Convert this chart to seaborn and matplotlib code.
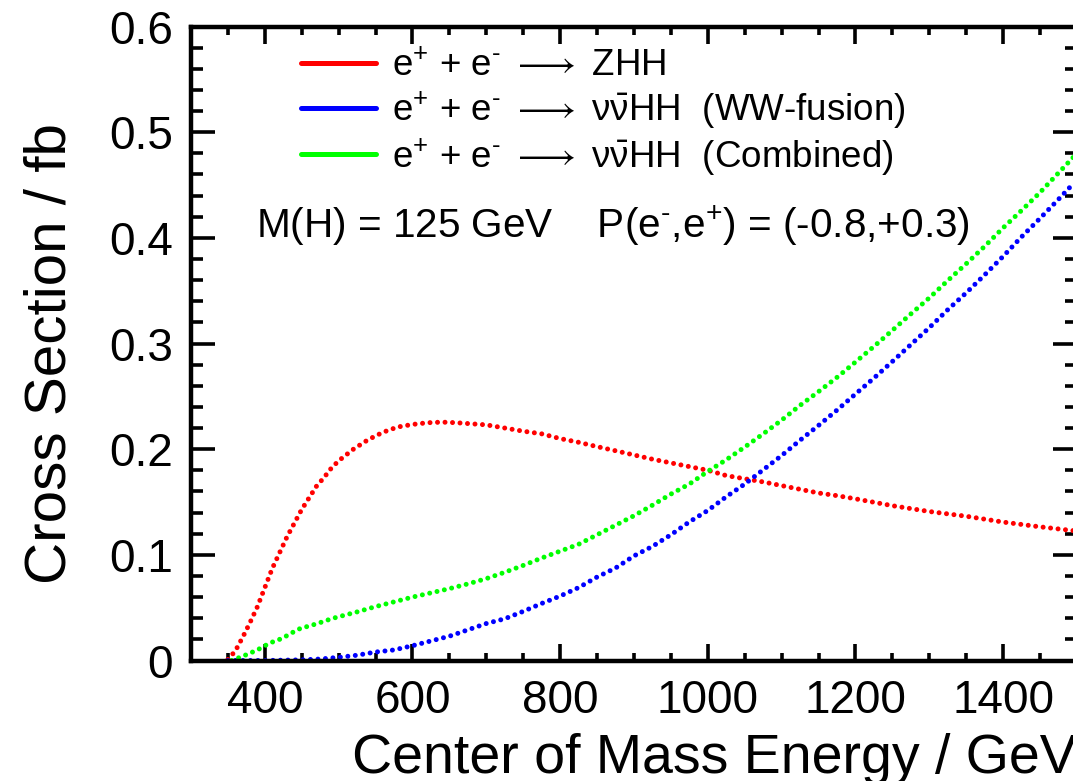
import numpy as np
import pandas as pd
import matplotlib
matplotlib.use("Agg")
import matplotlib.pyplot as plt
from matplotlib.lines import Line2D
from matplotlib.ticker import MultipleLocator, FixedLocator, FixedFormatter
import seaborn as sns

# ---------------- data ----------------
zhh_energy = [350, 360, 370, 380, 390, 400, 410, 420, 430, 440, 450, 460, 470, 480, 490,
              500, 520, 540, 560, 580, 600, 620, 640, 660, 680, 700, 720, 750, 775, 800,
              825, 850, 875, 900, 925, 950, 975, 1000, 1025, 1050, 1075, 1100, 1125, 1150,
              1175, 1200, 1250, 1300, 1350, 1400, 1450, 1500]
zhh_xsec = [0.001, 0.009, 0.022, 0.036, 0.051, 0.069, 0.087, 0.102, 0.117, 0.130, 0.143,
            0.154, 0.165, 0.173, 0.182, 0.189, 0.200, 0.209, 0.216, 0.221, 0.2234, 0.225,
            0.2256, 0.225, 0.224, 0.223, 0.2206, 0.217, 0.2145, 0.210, 0.2065, 0.2024,
            0.1985, 0.1945, 0.1905, 0.187, 0.1835, 0.180, 0.175, 0.172, 0.169, 0.1655,
            0.162, 0.1585, 0.156, 0.153, 0.1465, 0.141, 0.1365, 0.131, 0.1265, 0.1225]

ww_energy = [350, 400, 450, 475, 500, 525, 550, 575, 600, 625, 650, 675, 700, 725, 750,
             775, 800, 825, 850, 875, 900, 925, 950, 975, 1000, 1025, 1050, 1075, 1100,
             1125, 1150, 1175, 1200, 1225, 1250, 1275, 1300, 1325, 1350, 1375, 1400, 1425,
             1450, 1475, 1500]
ww_xsec = [0.0, 0.0, 0.0006, 0.0014, 0.003, 0.005, 0.008, 0.010, 0.014, 0.0185, 0.023,
           0.029, 0.035, 0.0395, 0.0465, 0.054, 0.061, 0.069, 0.079, 0.0875, 0.099, 0.108,
           0.119, 0.1312, 0.142, 0.155, 0.167, 0.1805, 0.194, 0.2085, 0.2225, 0.237, 0.2522,
           0.2673, 0.283, 0.299, 0.315, 0.332, 0.348, 0.365, 0.3825, 0.401, 0.4185, 0.4365,
           0.455]

comb_energy = [355, 370, 380, 390, 400, 410, 420, 430, 440, 450, 460, 470, 480, 490, 500,
               525, 550, 575, 600, 625, 650, 675, 700, 725, 750, 775, 800, 825, 850, 875,
               900, 925, 950, 975, 1000, 1025, 1050, 1075, 1100, 1125, 1150, 1175, 1200,
               1225, 1250, 1275, 1300, 1325, 1350, 1375, 1400, 1425, 1450, 1475, 1500]
comb_xsec = [0.0, 0.004, 0.007, 0.010, 0.014, 0.0174, 0.020, 0.0235, 0.0275, 0.031, 0.0325,
             0.0348, 0.037, 0.0395, 0.0414, 0.046, 0.051, 0.0555, 0.060, 0.064, 0.068,
             0.0725, 0.0775, 0.0835, 0.090, 0.097, 0.1035, 0.110, 0.119, 0.128, 0.137, 0.147,
             0.1575, 0.167, 0.179, 0.190, 0.202, 0.2145, 0.2275, 0.2415, 0.2545, 0.268,
             0.2825, 0.2972, 0.3125, 0.328, 0.3432, 0.3596, 0.3755, 0.392, 0.4095, 0.426,
             0.443, 0.4615, 0.480]

series_labels = [r"e$^{+}$ + e$^{‐}$ $\longrightarrow$ ZHH",
                 r"e$^{+}$ + e$^{‐}$ $\longrightarrow$ $\nu\bar{\nu}$HH  (WW-fusion)",
                 r"e$^{+}$ + e$^{‐}$ $\longrightarrow$ $\nu\bar{\nu}$HH  (Combined)"]
series_colors = ["#ff0000", "#0000ff", "#00ff00"]

x_ticks = [400, 600, 800, 1000, 1200, 1400]
x_tick_labels = ["400", "600", "800", "1000", "1200", "1400"]
y_ticks = [0.0, 0.1, 0.2, 0.3, 0.4, 0.5, 0.6]
y_tick_labels = ["0", "0.1", "0.2", "0.3", "0.4", "0.5", "0.6"]

x_label = "Center of Mass Energy / GeV"
y_label = "Cross Section / fb"
note = r"M(H) = 125 GeV    P(e$^{‐}$,e$^{+}$) = (-0.8,+0.3)"

# ---------------- styling ----------------
sns.set_theme(style="ticks")
plt.rcParams["font.family"] = ["Liberation Sans", "DejaVu Sans"]
plt.rcParams["mathtext.fontset"] = "custom"
plt.rcParams["mathtext.rm"] = "Liberation Sans"
plt.rcParams["mathtext.it"] = "Liberation Sans:italic"
plt.rcParams["mathtext.bf"] = "Liberation Sans:bold"
plt.rcParams["mathtext.default"] = "regular"
for k in ["text.color", "axes.labelcolor", "xtick.color", "ytick.color", "axes.edgecolor"]:
    plt.rcParams[k] = "black"

W, H = 1073, 781
fig = plt.figure(figsize=(W / 100, H / 100), dpi=100)
ax_l, ax_r, ax_b, ax_t = 191, 1077, 660.5, 26.5
ax = fig.add_axes([ax_l / W, 1 - ax_b / H, (ax_r - ax_l) / W, (ax_b - ax_t) / H])

frames = [
    pd.DataFrame({"energy": zhh_energy, "xsec": zhh_xsec}),
    pd.DataFrame({"energy": ww_energy, "xsec": ww_xsec}),
    pd.DataFrame({"energy": comb_energy, "xsec": comb_xsec}),
]
dot_lw = 3.6
for df, col in zip(frames, series_colors):
    sns.lineplot(data=df, x="energy", y="xsec", ax=ax, color=col, lw=dot_lw,
                 linestyle=(0, (0.001, 1.5)), dash_capstyle="round",
                 solid_capstyle="round", clip_on=True)

ax.set_xlim(300, 1500)
ax.set_ylim(0, 0.6)

ax.xaxis.set_major_locator(FixedLocator(x_ticks))
ax.xaxis.set_major_formatter(FixedFormatter(x_tick_labels))
ax.xaxis.set_minor_locator(MultipleLocator(50))
ax.yaxis.set_major_locator(FixedLocator(y_ticks))
ax.yaxis.set_major_formatter(FixedFormatter(y_tick_labels))
ax.yaxis.set_minor_locator(MultipleLocator(0.02))

ax.tick_params(axis="both", which="both", direction="in", top=True, right=True,
               width=2.6, colors="black", labelsize=33)
ax.tick_params(axis="x", which="major", length=12.2, pad=13)
ax.tick_params(axis="x", which="minor", length=5.8)
ax.tick_params(axis="y", which="major", length=17.3, pad=13)
ax.tick_params(axis="y", which="minor", length=8.6)

for s in ax.spines.values():
    s.set_linewidth(3.2)
    s.set_color("black")

ax.set_xlabel(x_label, fontsize=40, ha="right", va="top")
ax.xaxis.set_label_coords(1.0, -0.114)
ax.set_ylabel(y_label, fontsize=42)
ax.yaxis.set_label_coords(-0.128, 0.485)

handles = [Line2D([0], [0], color=c, lw=3.6) for c in series_colors]
fig_tr = fig.transFigure
leg = ax.legend(handles, series_labels, loc="upper left",
                bbox_to_anchor=(301 / W, 1 - 49 / H), bbox_transform=fig_tr,
                frameon=False, fontsize=26.5, handlelength=2.05, handletextpad=0.42,
                labelspacing=0.15, borderpad=0, borderaxespad=0)

ax.text(256 / W, 1 - 238 / H, note, transform=fig_tr, fontsize=29.2,
        ha="left", va="baseline")

fig.savefig("out.png", dpi=100)
